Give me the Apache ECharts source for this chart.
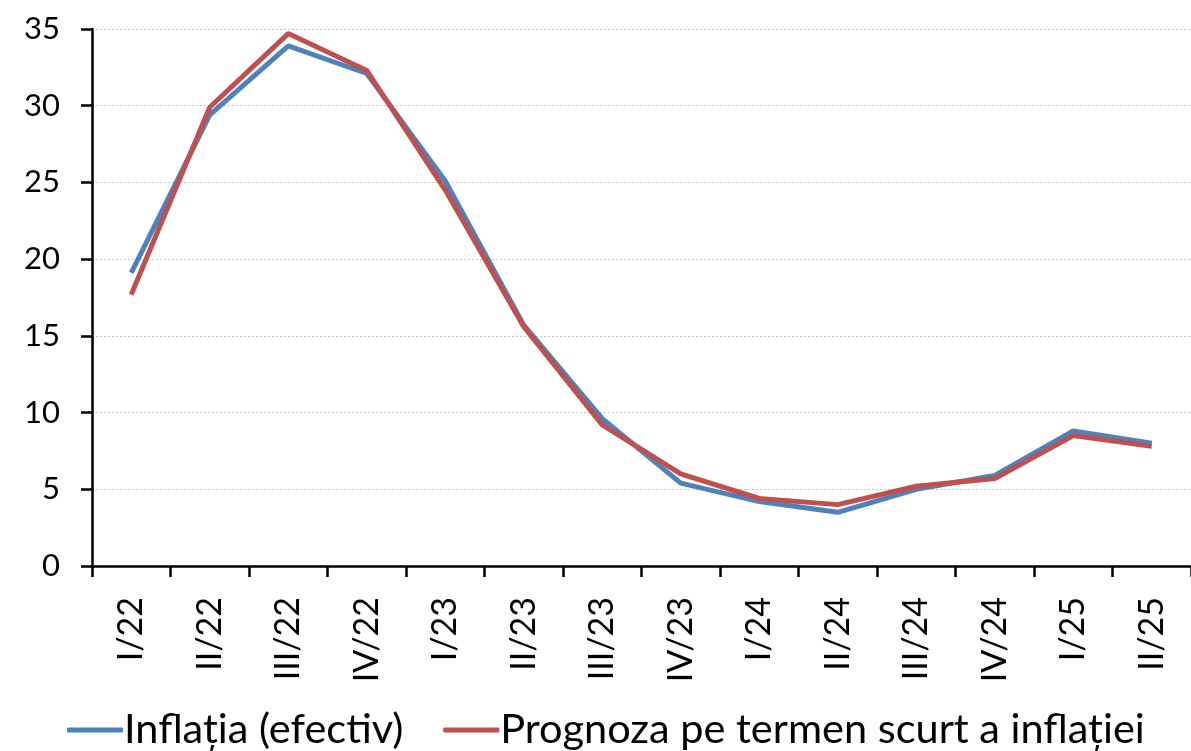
<!DOCTYPE html>
<html>
<head>
<meta charset="utf-8">
<style>
    html, body {margin: 0; padding: 0; background: #ffffff;}
    #main {width: 1191px; height: 751px;}
</style>
</head>
<body>
<div id="main"></div>
<script src="https://cdn.jsdelivr.net/npm/echarts@6/dist/echarts.min.js"></script>
<script type="text/javascript">
    // date
    var categories = ['I/22', 'II/22', 'III/22', 'IV/22', 'I/23', 'II/23', 'III/23', 'IV/23',
        'I/24', 'II/24', 'III/24', 'IV/24', 'I/25', 'II/25'];
    var inflatia = [19.1, 29.4, 33.9, 32.1, 25.1, 15.7, 9.6, 5.4, 4.2, 3.5, 5.0, 5.9, 8.8, 8.0];
    var prognoza = [17.7, 29.9, 34.7, 32.3, 24.5, 15.6, 9.2, 6.0, 4.4, 4.0, 5.2, 5.7, 8.5, 7.8];
    var seriesNames = ['Inflația (efectiv)', 'Prognoza pe termen scurt a inflației'];

    var myChart = echarts.init(document.getElementById('main'));
    var option = {
        animation: false,
        textStyle: {fontFamily: 'Lato'},
        grid: {
            left: 92,
            right: -4,
            top: 29,
            bottom: 185
        },
        legend: {
            data: seriesNames,
            bottom: -5,
            left: 62,
            icon: 'roundRect',
            itemWidth: 56,
            itemHeight: 5,
            itemGap: 40,
            textStyle: {fontSize: 41.5, color: '#000000', padding: [0, 0, 0, -4]}
        },
        xAxis: [
            {
                type: 'category',
                boundaryGap: true,
                data: categories,
                axisLine: {lineStyle: {color: '#000000', width: 2.5}},
                axisTick: {show: true, length: 11, lineStyle: {color: '#000000', width: 2.5}},
                axisLabel: {
                    rotate: 90,
                    margin: 31,
                    fontSize: 34,
                    color: '#000000'
                }
            }
        ],
        yAxis: [
            {
                type: 'value',
                min: 0,
                max: 35,
                interval: 5,
                axisLine: {show: true, lineStyle: {color: '#000000', width: 2.5}},
                axisTick: {show: true, length: 11, lineStyle: {color: '#000000', width: 2.5}},
                axisLabel: {fontSize: 31, color: '#000000', margin: 32},
                splitLine: {
                    show: true,
                    lineStyle: {type: [2, 2], color: '#c4c4c4', width: 1}
                }
            }
        ],
        series: [
            {
                name: seriesNames[0],
                type: 'line',
                symbol: 'none',
                data: inflatia,
                color: '#4f81bd',
                lineStyle: {width: 5, color: '#4f81bd'}
            },
            {
                name: seriesNames[1],
                type: 'line',
                symbol: 'none',
                data: prognoza,
                color: '#c0504d',
                lineStyle: {width: 5, color: '#c0504d'}
            }
        ]
    };

    myChart.setOption(option);
</script>
</body>
</html>
